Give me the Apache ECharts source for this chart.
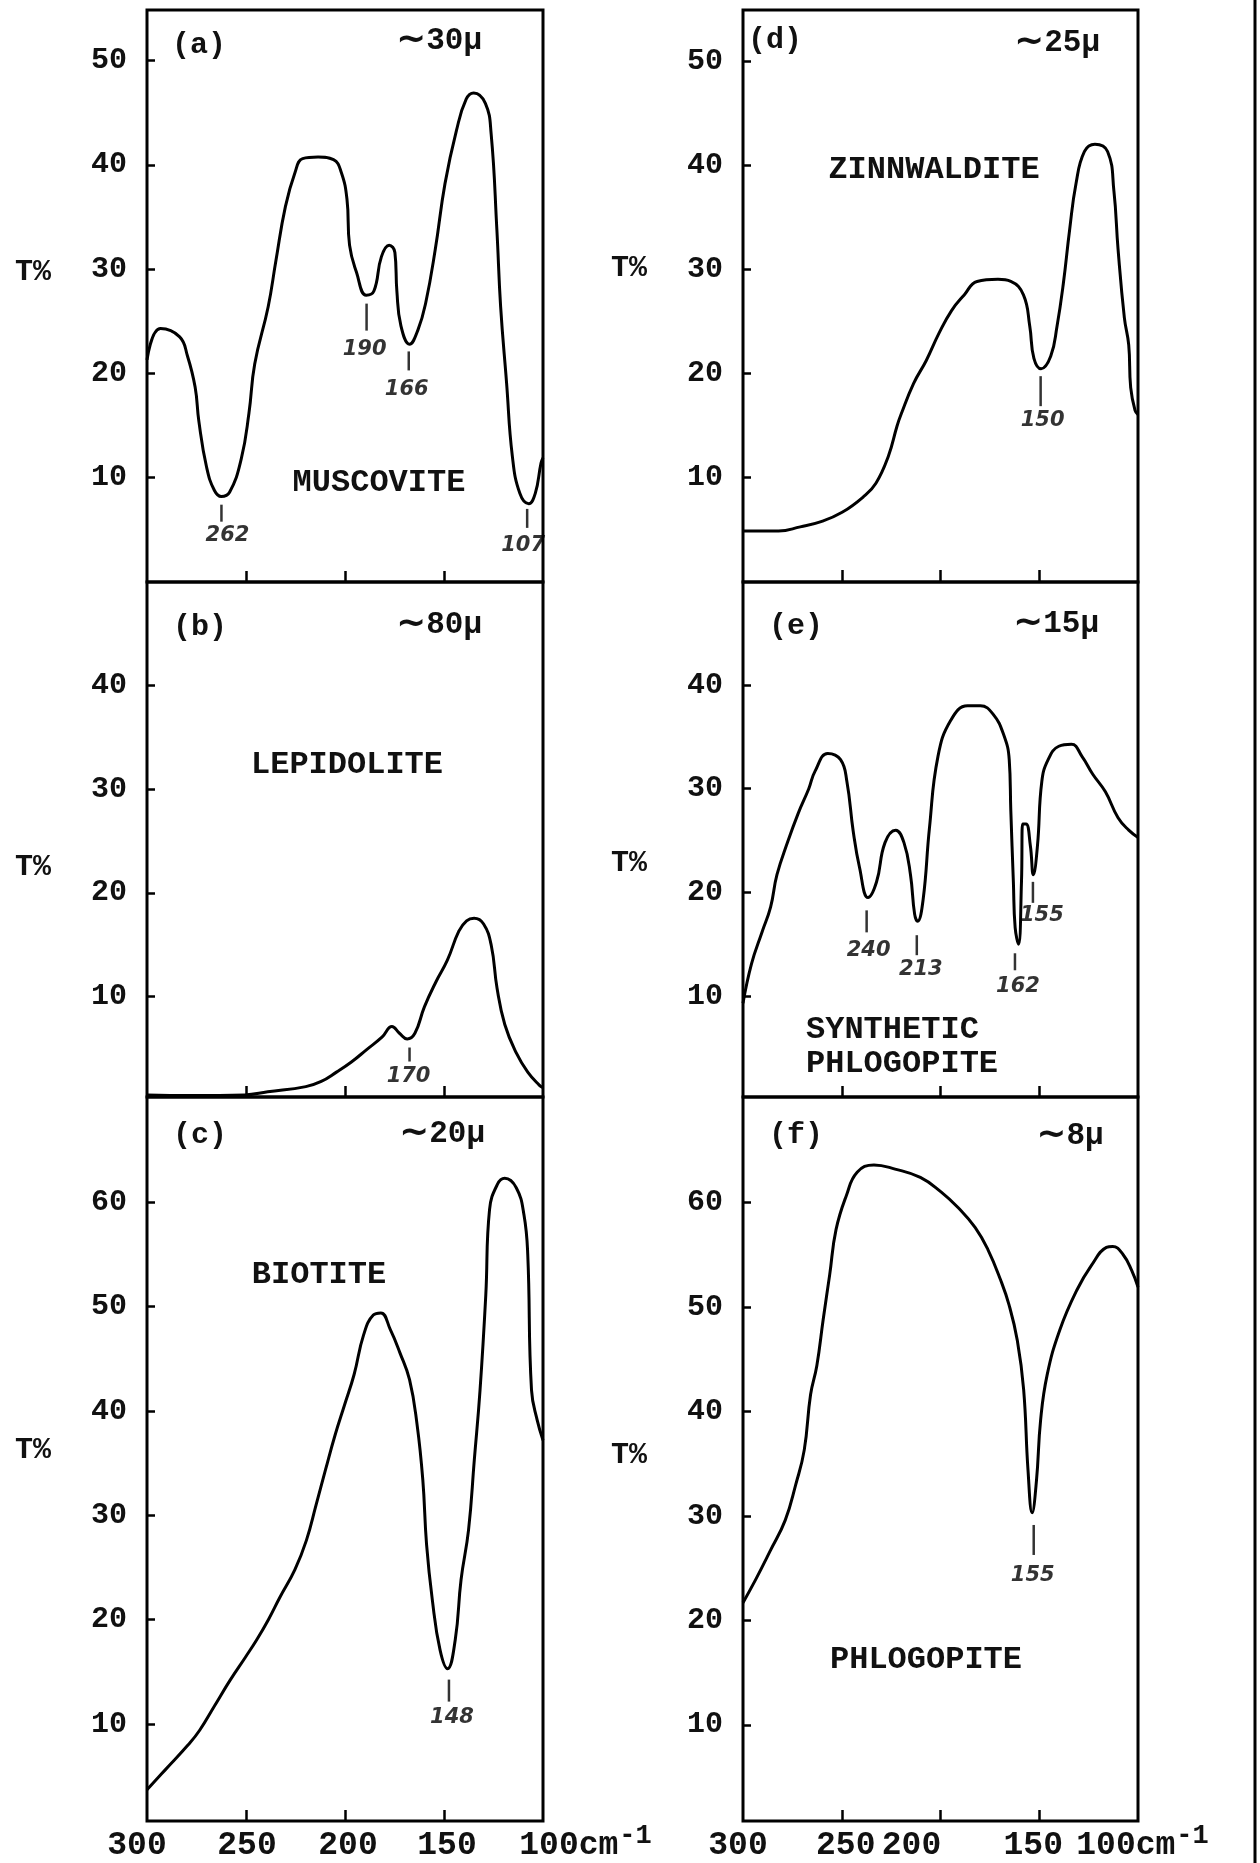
<!DOCTYPE html>
<html><head><meta charset="utf-8">
<script src="https://cdn.jsdelivr.net/npm/echarts/dist/echarts.min.js"></script>
<style>html,body{margin:0;padding:0;background:#fff}#c{width:1260px;height:1863px}</style>
</head><body><div id="c"></div><script>
// ---------- data ----------
const xTickValues = [250, 200, 150];
const xLabelValues = [300, 250, 200, 150, 100];
const xUnitLabel = ['cm', '-1'];
const yTicks50 = [10, 20, 30, 40, 50];
const yTicks40 = [10, 20, 30, 40];
const yTicks60 = [10, 20, 30, 40, 50, 60];

// (a) Muscovite
const muscoviteWn = [300,293.2,283.5,279.6,275.7,273.8,269.9,266,262.5,258.3,252.4,248.5,245.6,238.8,234.9,230.1,225.2,221.4,213.6,205.8,201.9,199,197.7,194.2,189.3,185.4,181.6,177.7,174.8,173.8,171.8,167.4,163.1,159.2,154.4,149.5,143.7,138.8,135,129.1,126.2,123.3,121.4,118.4,115.5,111.7,107.2,103.9,101,100];
const muscoviteT  = [21.3,24.3,23.5,21.7,18.7,15.4,11.0,8.8,8.2,8.6,11.8,16.2,20.9,26.4,30.8,36.0,39.3,40.6,40.75,40.5,39.3,36.7,32.3,29.7,27.5,27.9,31.2,32.3,31.6,27.9,24.6,22.8,24.2,26.8,31.9,38.2,43.3,46.3,46.9,45.9,43.0,33.8,26.4,19.1,12.1,8.5,7.5,8.5,11.4,11.9];
const muscovitePeaks = [[262.4, 6.6, '262'], [189.1, 25.4, '190'], [167.8, 21.2, '166'], [108, 6.1, '107']];

// (b) Lepidolite
const lepidoliteWn = [300,277.8,250.7,239,219.8,212,204.3,196.6,188.9,181.2,176.3,172.5,168.6,164.7,159.9,154.1,148.3,142.5,138.6,134.8,130,126.1,123.2,119.3,113.5,107.7,101.9,100];
const lepidoliteT  = [0.5,0.45,0.5,0.8,1.3,1.8,2.7,3.7,4.9,6.1,7.1,6.45,5.9,6.45,9.0,11.4,13.5,16.3,17.3,17.55,17.0,14.9,10.8,7.3,4.55,2.7,1.45,1.2];
const lepidolitePeaks = [[167.4, 4.4, '170']];

// (c) Biotite
const biotiteWn = [300,290.8,279.2,273.4,265.7,258,250.3,244.5,238.7,233,225.3,219.5,214.6,209.8,205,200.2,195.4,190.6,185.7,181.9,177.1,172.3,167.4,163.6,160.7,158.8,155.9,152,148.2,144.3,141.4,137.6,134.7,131.8,128.9,127,123.1,119.3,113.5,109.6,107.7,105.8,102.9,100];
const biotiteT  = [3.7,5.6,8.0,9.4,11.8,14.2,16.4,18.1,20.0,22.1,24.8,27.6,31.0,34.4,37.7,40.6,43.5,47.3,49.2,49.4,47.8,45.6,43.0,38.7,33.4,27.2,21.9,17.1,15.3,18.1,23.8,28.6,35.3,42.0,51.1,59.3,61.7,62.3,61.4,58.8,55.0,42.0,39.1,37.2];
const biotitePeaks = [[147.5, 13.2, '148']];

// (d) Zinnwaldite
const zinnwalditeWn = [300,282,271,260.5,249.8,239,232.7,226.4,222,220,213.6,207.2,200.8,194.4,188,181.5,170.9,164.4,158,154.8,152.7,149.1,144.2,141,137.8,134.6,131.4,127.1,121.8,115.4,112.2,110.1,106.9,104.7,103.7,101.5,100];
const zinnwalditeT  = [4.8,4.8,5.2,5.7,6.6,8.1,9.4,12.0,14.9,16.0,19.0,21.2,23.8,26.0,27.5,28.8,29.0,28.8,27.5,24.5,21.4,20.4,21.6,24.5,28.6,33.8,38.2,41.3,42.0,41.3,37.5,31.9,25.3,22.7,18.6,16.4,16.0];
const zinnwalditePeaks = [[149.3, 18.25, '150']];

// (e) Synthetic phlogopite
const synPhlogopiteWn = [300,295.7,290.3,286,282.8,277.5,272.1,266.7,263.5,257.1,250.6,247.4,244.2,241,236.7,232.4,228.1,222.7,218.5,215.2,213.1,211.6,208.8,205.6,201.3,194.8,186.3,179.8,173.4,168,165.2,164.4,163.1,162.2,160.5,159,158.4,156.7,154.5,153,150.9,148.7,145.5,140.1,133.7,128.3,122.9,116.5,110.1,104.7,100];
const synPhlogopiteT  = [9.3,13.1,16.2,18.6,21.7,24.8,27.6,30.0,31.7,33.4,32.8,30.7,25.9,22.4,19.5,21.0,24.8,26.0,24.8,21.7,17.9,17.2,19.3,26.2,33.1,36.6,38.0,38.0,37.2,35.2,32.8,27.9,21.0,16.6,15.0,21.0,26.6,26.6,24.5,21.7,24.5,30.7,32.8,34.1,34.3,33.1,31.4,29.7,27.2,26.0,25.3];
const synPhlogopitePeaks = [[237.4, 17.2, '240'], [212, 14.9, '213'], [162.3, 13.3, '162'], [153.2, 20.0, '155']];

// (f) Phlogopite
const phlogopiteWn = [300,293.6,286.1,278.6,273.3,269,265.8,262.6,259.4,256.1,252.9,247.6,242.2,233.7,223,210.2,199.6,191,182.4,176,169.6,165.3,161.1,157.9,155.7,153.6,151.4,149.3,146,139.6,131,123.5,116,112.8,107.5,103.2,100];
const phlogopiteT  = [21.7,23.9,26.7,29.6,33.0,36.3,41.6,44.4,48.8,53.1,57.4,60.7,62.9,63.6,63.2,62.4,61.0,59.5,57.6,55.5,52.6,50.2,46.8,42.1,34.4,30.3,33.4,39.2,43.5,47.8,51.6,54.0,55.7,55.8,55.0,53.5,51.9];
const phlogopitePeaks = [[152.8, 27.7, '155']];

// ---------- layout / style ----------
const panels = [
  {grid:{left:147, top:10,   width:396, height:572}, y:[0, 54.85],  yt:yTicks50, wn:muscoviteWn, t:muscoviteT, peaks:muscovitePeaks,
   tickLen:[17,27,19,19], lblDist:[2,7,7,6], lblDx:[6,-2,-2,-4], bottom:false},
  {grid:{left:147, top:582,  width:396, height:515}, y:[0.3, 50],    yt:yTicks40, wn:lepidoliteWn, t:lepidoliteT, peaks:lepidolitePeaks,
   tickLen:[14], lblDist:[3], lblDx:[-1], bottom:false},
  {grid:{left:147, top:1097, width:396, height:724}, y:[0.7, 70.1],  yt:yTicks60, wn:biotiteWn, t:biotiteT, peaks:biotitePeaks,
   tickLen:[22], lblDist:[4], lblDx:[3], bottom:true, side:'left'},
  {grid:{left:743, top:10,   width:395, height:572}, y:[-0.1, 54.9], yt:yTicks50, wn:zinnwalditeWn, t:zinnwalditeT, peaks:zinnwalditePeaks,
   tickLen:[30], lblDist:[2], lblDx:[2], bottom:false},
  {grid:{left:743, top:582,  width:395, height:515}, y:[0.25, 49.95],yt:yTicks40, wn:synPhlogopiteWn, t:synPhlogopiteT, peaks:synPhlogopitePeaks,
   tickLen:[22,20,17,21], lblDist:[6,2,4,1], lblDx:[2,4,3,9], bottom:false},
  {grid:{left:743, top:1097, width:395, height:724}, y:[0.8, 70.1],  yt:yTicks60, wn:phlogopiteWn, t:phlogopiteT, peaks:phlogopitePeaks,
   tickLen:[30], lblDist:[9], lblDx:[-1], bottom:true, side:'right'}
];

const MONO = '"Liberation Mono", "DejaVu Sans Mono", monospace';
const HAND = '"DejaVu Sans", sans-serif';
// horizontal shift (px) of each bottom tick label relative to its tick, as in the original typesetting
const labelShift = {
  left:  {300:-10, 250:1, 200:3, 150:3, 100:6},
  right: {300:-5, 250:4, 200:-29, 150:-6, 100:-32}
};
const X_FS = 33, SUP_FS = 27, X_MARGIN = 6, X_LH = 38;
const CH = 0.6 * X_FS; // monospace advance

function richFor(side){
  const r = {};
  xLabelValues.forEach(v => {
    const d = labelShift[side][v];
    let pl = 0, pr = 0;
    if (d < 0) pr = -2*d; else pl = 2*d;
    r['v'+v] = {fontFamily: MONO, fontSize: X_FS, fontWeight: 'bold', color: '#111', lineHeight: X_LH, padding: [0, pr, 0, pl]};
  });
  return r;
}

const grid = [], xAxis = [], yAxis = [], series = [];
panels.forEach((p, i) => {
  grid.push(Object.assign({show: true, borderColor: '#000', borderWidth: 3, backgroundColor: 'transparent', containLabel: false}, p.grid));
  xAxis.push({
    type: 'value', gridIndex: i, min: 100, max: 300, inverse: true,
    axisLine: {show: false}, splitLine: {show: false},
    axisTick: {show: true, inside: true, length: 11, lineStyle: {color: '#000', width: 2.5}, customValues: xTickValues},
    axisLabel: p.bottom ? {
      show: true, margin: X_MARGIN, customValues: xLabelValues.slice(0, 4), showMinLabel: true, showMaxLabel: true, hideOverlap: false,
      formatter: v => '{v' + v + '|' + v + '}',
      rich: richFor(p.side)
    } : {show: false}
  });
  yAxis.push({
    type: 'value', gridIndex: i, min: p.y[0], max: p.y[1],
    axisLine: {show: false}, splitLine: {show: false},
    axisTick: {show: true, inside: true, length: 8, lineStyle: {color: '#000', width: 2.5}, customValues: p.yt},
    axisLabel: {show: true, customValues: p.yt, margin: 20, fontFamily: MONO, fontSize: 30, fontWeight: 'bold', color: '#111'}
  });
  series.push({
    type: 'line', xAxisIndex: i, yAxisIndex: i,
    data: p.wn.map((w, k) => [w, p.t[k]]),
    showSymbol: false, smooth: 0.45,
    lineStyle: {color: '#000', width: 3}, silent: true
  });
  series.push({
    type: 'scatter', xAxisIndex: i, yAxisIndex: i, symbol: 'rect', silent: true,
    itemStyle: {color: '#000'},
    data: p.peaks.map((pk, k) => ({
      value: [pk[0], pk[1]],
      symbolSize: [2.5, p.tickLen[k]],
      label: {show: true, position: 'bottom', distance: p.lblDist[k], offset: [p.lblDx[k], 0], formatter: pk[2],
              fontFamily: HAND, fontStyle: 'italic', fontWeight: 'bold', fontSize: 21, lineHeight: 24, color: '#000'}
    }))
  });
});

// text annotations (panel letters, thickness, mineral names, axis titles)
const txt = (text, x, y, font, extra) => Object.assign({type: 'text', x: x, y: y, silent: true,
  style: Object.assign({text: text, fill: '#111', align: 'center', verticalAlign: 'middle', font: font}, extra || {})});
const F_TAG = 'bold 30px ' + MONO;
const F_NAME = 'bold 32px ' + MONO;
const F_T = 'bold 30px ' + MONO;
const thick = (text, x, y) => ({type: 'text', x: x, y: y, silent: true,
  style: {text: '{t|∼}{n|' + text + '}', align: 'center', verticalAlign: 'middle',
    rich: {t: {fontFamily: HAND, fontSize: 36, fill: '#111', fontWeight: 'bold'},
           n: {fontFamily: MONO, fontSize: 31, fill: '#111', fontWeight: 'bold'}}}});
const graphic = [
  txt('(a)', 199, 45, F_TAG), thick('30μ', 439, 41),
  txt('(b)', 200, 627, F_TAG), thick('80μ', 439, 625),
  txt('(c)', 200, 1135, F_TAG), thick('20μ', 442, 1134),
  txt('(d)', 775, 40, F_TAG), thick('25μ', 1057, 43),
  txt('(e)', 796, 626, F_TAG), thick('15μ', 1056, 624),
  txt('(f)', 796, 1135, F_TAG), thick('8μ', 1070, 1136),
  txt('MUSCOVITE', 379, 483, F_NAME),
  txt('LEPIDOLITE', 347, 765, F_NAME),
  txt('BIOTITE', 319, 1275, F_NAME),
  txt('ZINNWALDITE', 934, 170, F_NAME),
  txt('SYNTHETIC', 806, 1030, F_NAME, {align: 'left'}),
  txt('PHLOGOPITE', 806, 1064, F_NAME, {align: 'left'}),
  txt('PHLOGOPITE', 926, 1660, F_NAME),
  txt('T%', 33, 272, F_T), txt('T%', 33, 867, F_T), txt('T%', 33, 1450, F_T),
  txt('T%', 629, 268, F_T), txt('T%', 629, 863, F_T), txt('T%', 629, 1455, F_T),
  {type: 'line', silent: true, shape: {x1: 1255, y1: 0, x2: 1255, y2: 1863}, style: {stroke: '#000', lineWidth: 3}}
];

const chart = echarts.init(document.getElementById('c'), null, {renderer: 'canvas'});
chart.setOption({
  backgroundColor: '#fff', animation: false,
  grid, xAxis, yAxis, series
});

// last bottom label ("100cm-1") placed at the 100 tick through the axis scale
panels.forEach((p, i) => {
  if (!p.bottom) return;
  const v = xLabelValues[4];
  const pt = chart.convertToPixel({xAxisIndex: i, yAxisIndex: i}, [v, p.y[0]]);
  const cx = pt[0] + labelShift[p.side][v];
  const cy = pt[1] + X_MARGIN + X_LH / 2;
  const left = cx - 1.5 * CH;
  graphic.push({type: 'text', x: left, y: cy, silent: true,
    style: {text: String(v) + xUnitLabel[0], fill: '#111', align: 'left', verticalAlign: 'middle', font: 'bold ' + X_FS + 'px ' + MONO}});
  graphic.push({type: 'text', x: left + 5 * CH + 1, y: cy - 10, silent: true,
    style: {text: xUnitLabel[1], fill: '#111', align: 'left', verticalAlign: 'middle', font: 'bold ' + SUP_FS + 'px ' + MONO}});
});
chart.setOption({graphic: graphic});
</script></body></html>
